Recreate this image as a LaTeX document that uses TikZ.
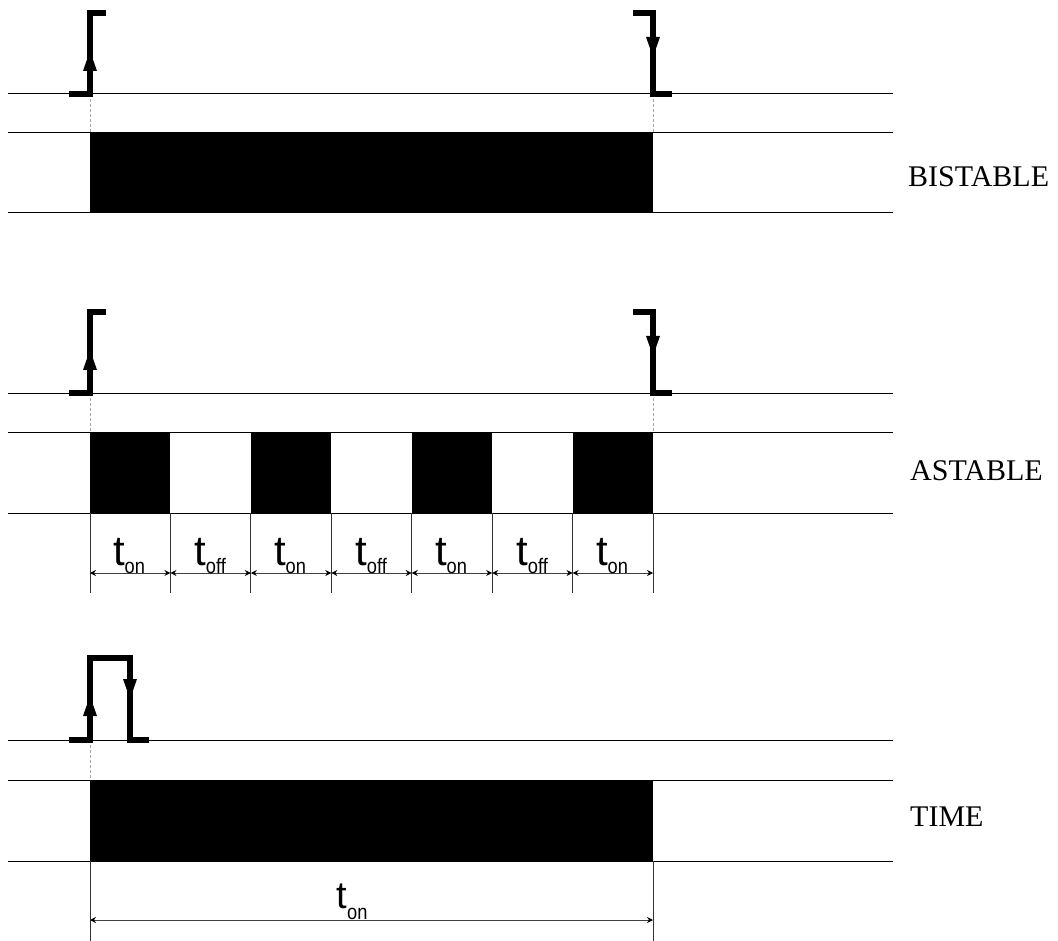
\documentclass[tikz,border=0pt]{standalone}
\usepackage{fontspec}
\setmainfont{Liberation Serif}
\newfontfamily\lsans{Liberation Sans}
\usetikzlibrary{arrows.meta}
\tikzset{
  hline/.style={line width=1pt, black},
  pulse/.style={line width=5.5pt, black, line cap=butt, line join=miter},
  guide/.style={line width=1pt, gray!70, densely dashed},
  dimline/.style={line width=1pt, gray!50!black, {Stealth[length=6pt,width=6pt,black]}-{Stealth[length=6pt,width=6pt,black]}},
  tick/.style={line width=1pt, gray!40!black},
  block/.style={fill=black, draw=none},
  lbl/.style={font=\fontsize{30}{30}\selectfont, anchor=base west, inner sep=0pt},
  tl/.style={inner sep=0pt, anchor=base}
}
\newcommand{\uptri}[2]{\fill (#1-7,#2+20) -- (#1,#2) -- (#1+7,#2+20) -- cycle;}
\newcommand{\dntri}[2]{\fill (#1-7,#2-20) -- (#1,#2) -- (#1+7,#2-20) -- cycle;}
\newcommand{\tlab}[3]{\node[tl] at (#1,#2) {\lsans\fontsize{42}{42}\selectfont t\raisebox{-8pt}{\scalebox{0.87}[1]{\fontsize{21}{21}\selectfont #3}}};}
\begin{document}
\begin{tikzpicture}[x=1pt,y=-1pt]
\useasboundingbox (0,0) rectangle (1058,941);
% ---------- BISTABLE ----------
\draw[hline] (8,94) -- (893,94);
\draw[hline] (8,133) -- (893,133);
\draw[hline] (8,213) -- (893,213);
\fill[block] (90,133) rectangle (653,213);
\draw[guide] (90,94) -- (90,133);
\draw[guide] (653,94) -- (653,133);
\draw[pulse] (69,94) -- (90,94) -- (90,13) -- (106,13);
\draw[pulse] (633,13) -- (653,13) -- (653,94) -- (672,94);
\uptri{90}{51}
\dntri{653}{57}
\node[lbl] (bist) at (908,187) {BISTABLE};
% ---------- ASTABLE ----------
\draw[hline] (8,393) -- (893,393);
\draw[hline] (8,432) -- (893,432);
\draw[hline] (8,513) -- (893,513);
\draw[guide] (90,393) -- (90,432);
\draw[guide] (653,393) -- (653,432);
\draw[pulse] (69,393) -- (90,393) -- (90,312) -- (106,312);
\draw[pulse] (633,312) -- (653,312) -- (653,393) -- (672,393);
\uptri{90}{350}
\dntri{653}{356}
\foreach \i in {0,2,4,6} {
  \fill[block] ({90+\i*80.43},432) rectangle ({90+(\i+1)*80.43},513);
}
\foreach \i in {0,...,7} {
  \draw[tick] ({90+\i*80.43},513) -- ({90+\i*80.43},593);
}
\foreach \i in {0,...,6} {
  \draw[dimline] ({90+\i*80.43},573) -- ({90+(\i+1)*80.43},573);
}
\tlab{129}{565}{on}
\tlab{210}{565}{off}
\tlab{290}{565}{on}
\tlab{371}{565}{off}
\tlab{451}{565}{on}
\tlab{532}{565}{off}
\tlab{612}{565}{on}
\node[lbl] (ast) at (910,480) {ASTABLE};
% ---------- TIME ----------
\draw[hline] (8,740) -- (893,740);
\draw[hline] (8,780) -- (893,780);
\draw[hline] (8,861) -- (893,861);
\fill[block] (90,780) rectangle (653,861);
\draw[guide] (90,740) -- (90,780);
\draw[pulse] (69,740) -- (90,740) -- (90,658) -- (130,658) -- (130,740) -- (149,740);
\uptri{90}{696}
\dntri{130}{699}
\draw[tick] (90,861) -- (90,941);
\draw[tick] (653,861) -- (653,941);
\draw[dimline] (90,920) -- (653,920);
\node[tl] at (352,908) {\lsans\fontsize{38}{38}\selectfont t\raisebox{-11pt}{\scalebox{0.87}[1]{\fontsize{21}{21}\selectfont on}}};
\node[lbl] (time) at (910,826) {TIME};
\end{tikzpicture}
\end{document}
